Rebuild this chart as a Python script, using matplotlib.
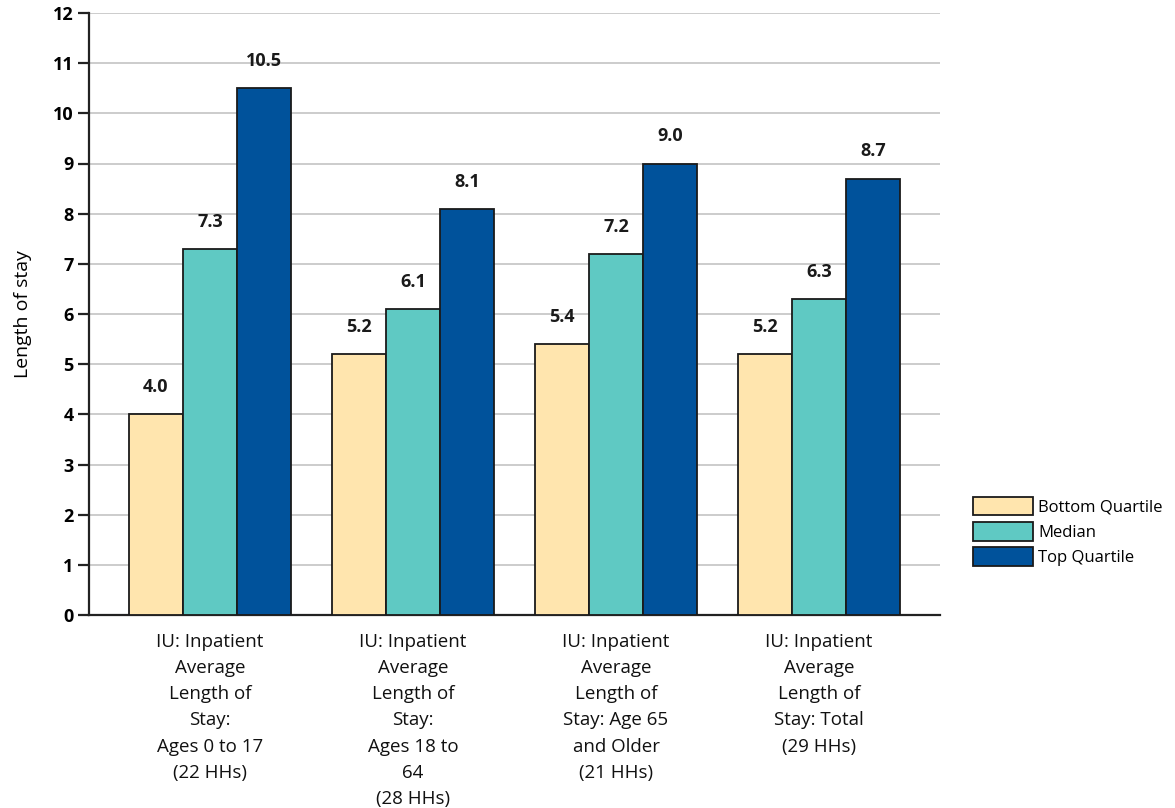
import matplotlib
matplotlib.use("Agg")
import matplotlib.pyplot as plt
import numpy as np

categories = [
    "IU: Inpatient\nAverage\nLength of\nStay:\nAges 0 to 17\n(22 HHs)",
    "IU: Inpatient\nAverage\nLength of\nStay:\nAges 18 to\n64\n(28 HHs)",
    "IU: Inpatient\nAverage\nLength of\nStay: Age 65\nand Older\n(21 HHs)",
    "IU: Inpatient\nAverage\nLength of\nStay: Total\n(29 HHs)",
]
series_names = ["Bottom Quartile", "Median", "Top Quartile"]
bottom_quartile = [4.0, 5.2, 5.4, 5.2]
median = [7.3, 6.1, 7.2, 6.3]
top_quartile = [10.5, 8.1, 9.0, 8.7]
colors = ["#FFE5AE", "#5FC9C3", "#00529B"]

plt.rcParams['font.family'] = ['Open Sans', 'DejaVu Sans']

fig = plt.figure(figsize=(11.75, 8.08), dpi=100)
ax = fig.add_axes([89/1175, 1-615/808, (940-89)/1175, (615-13)/808])

x = np.arange(len(categories))
w = 0.266
for i, (vals, name, c) in enumerate(zip([bottom_quartile, median, top_quartile], series_names, colors)):
    xs = x + (i - 1) * w
    ax.bar(xs, vals, width=w, color=c, edgecolor="#1a1a1a", linewidth=1.3, label=name, zorder=3)
    for xi, v in zip(xs, vals):
        ax.annotate(f"{v:.1f}", (xi, v), xytext=(0, 13), textcoords="offset points",
                    ha="center", va="bottom", fontsize=13, fontweight="bold", color="#1a1a1a")

ax.set_xlim(-0.596, 3.596)
ax.set_ylim(0, 12)
ax.set_yticks(range(0, 13))
ax.yaxis.grid(True, color="#c8c8c8", linewidth=1.3, zorder=0)
ax.set_axisbelow(True)
for s in ["top", "right"]:
    ax.spines[s].set_visible(False)
ax.spines["left"].set_linewidth(1.6)
ax.spines["bottom"].set_linewidth(1.6)
ax.spines["left"].set_color("#222222")
ax.spines["bottom"].set_color("#222222")
ax.tick_params(axis="y", length=8, width=1.6, color="#222222", labelsize=13, pad=3)
for lbl in ax.get_yticklabels():
    lbl.set_fontweight("bold")
ax.set_xticks(x)
ax.set_xticklabels(categories, fontsize=13.5, linespacing=1.58, color="#111111")
ax.tick_params(axis="x", length=0, pad=13)
ax.set_ylabel("Length of stay", fontsize=14, labelpad=15)

handles, labels = ax.get_legend_handles_labels()
leg = fig.legend(handles, labels, loc="upper left", bbox_to_anchor=(966/1175, 1-490/808),
                 frameon=False, fontsize=12, handlelength=3.6, handleheight=1.35,
                 handletextpad=0.35, labelspacing=0.38, borderaxespad=0)

fig.savefig("out.png", dpi=100)
